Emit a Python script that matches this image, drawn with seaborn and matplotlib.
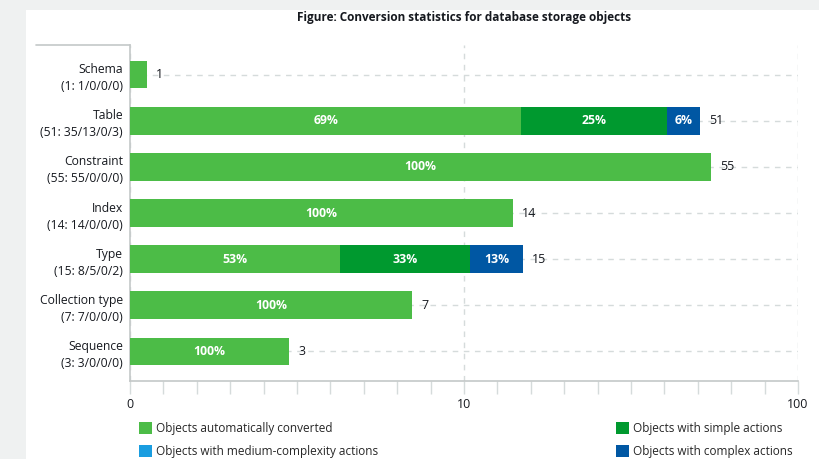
import numpy as np
import pandas as pd
import matplotlib
matplotlib.use("Agg")
import matplotlib.pyplot as plt
import seaborn as sns
from matplotlib.patches import Patch, Rectangle
from matplotlib.lines import Line2D
from matplotlib.ticker import FixedLocator, NullFormatter

# data
categories = ["Schema", "Table", "Constraint", "Index", "Type", "Collection type", "Sequence"]
totals = [1, 51, 55, 14, 15, 7, 3]
auto_conv = [1, 35, 55, 14, 8, 7, 3]
simple_act = [0, 13, 0, 0, 5, 0, 0]
medium_act = [0, 0, 0, 0, 0, 0, 0]
complex_act = [0, 3, 0, 0, 2, 0, 0]

series_names = ["Objects automatically converted", "Objects with simple actions",
                "Objects with medium-complexity actions", "Objects with complex actions"]
colors = ["#4cbc47", "#00992f", "#1a9de0", "#0057a3"]

sns.set_style("white")
plt.rcParams["font.family"] = ["Open Sans", "DejaVu Sans"]

fig = plt.figure(figsize=(8.2, 4.59), dpi=100, facecolor="#eff1f1")
fig.patches.append(Rectangle((26 / 820, 0), 1, 1 - 10 / 459, transform=fig.transFigure,
                             facecolor="white", edgecolor="none", zorder=-10))
ax = fig.add_axes([130 / 820, 1 - 381 / 459, 668 / 820, 336 / 459])
ax.set_facecolor("white")
ax.set_xscale("log")

counts = np.array([auto_conv, simple_act, medium_act, complex_act], dtype=float)
tot = np.array(totals, dtype=float)
# bar length is log10(total); segments split it proportionally
bar_len = np.maximum(np.log10(tot), 0.05)  # min visible width for single objects
frac = counts / tot
cum = np.cumsum(frac, axis=0)

labels = [f"{c}\n({t}: {a}/{s}/{m}/{x})" for c, t, a, s, m, x in
          zip(categories, totals, auto_conv, simple_act, medium_act, complex_act)]

# draw from the outermost layer inwards
for k in range(3, -1, -1):
    ends = 10 ** (cum[k] * bar_len)
    df = pd.DataFrame({"label": labels, "end": ends})
    sns.barplot(data=df, x="end", y="label", orient="h", color=colors[k],
                saturation=1, width=0.59, ax=ax, zorder=3, linewidth=0)

# percentage labels inside segments
for i in range(len(categories)):
    start = 0.0
    for k in range(4):
        if counts[k, i] > 0:
            mid = 10 ** ((start + cum[k, i]) / 2 * bar_len[i])
            if totals[i] > 2:
                ax.text(mid, i, f"{round(frac[k, i] * 100)}%", color="white",
                        ha="center", va="center", fontsize=8.8, fontweight="bold", zorder=5)
        start = cum[k, i]
    ax.annotate(str(totals[i]), (10 ** bar_len[i], i), xytext=(9, 0),
                textcoords="offset pixels", ha="left", va="center",
                fontsize=9, color="#16191f", zorder=5)

ax.set_xlim(1, 100)
ax.set_ylim(6.65, -0.65)
ax.set_xlabel("")
ax.set_ylabel("")

ax.xaxis.set_major_locator(FixedLocator([1, 10, 100]))
ax.set_xticklabels(["0", "10", "100"])
minors = [10 ** (k / 10) for k in range(1, 20) if k != 10]
ax.xaxis.set_minor_locator(FixedLocator(minors))
ax.xaxis.set_minor_formatter(NullFormatter())
ax.tick_params(axis="x", which="both", bottom=True, direction="out", length=9, width=1,
               color="#d5dbdb", labelsize=9, labelcolor="#16191f", pad=3)
ax.tick_params(axis="y", left=False, length=0, labelsize=8.7, labelcolor="#16191f", pad=5)
for t in ax.get_yticklabels():
    t.set_horizontalalignment("right")
    t.set_multialignment("right")
    t.set_linespacing(1.4)

ax.grid(axis="x", which="major", color="#d5dbdb", linestyle=(0, (4, 4)), linewidth=1)
ax.grid(axis="y", color="#d5dbdb", linestyle=(0, (4, 4)), linewidth=1)
ax.set_axisbelow(True)

for s in ["top", "right"]:
    ax.spines[s].set_visible(False)
for s in ["left", "bottom"]:
    ax.spines[s].set_color("#c4c8c8")
    ax.spines[s].set_linewidth(1.2)

fig.lines.append(Line2D([36 / 820, 130 / 820], [1 - 45 / 459, 1 - 45 / 459],
                        transform=fig.transFigure, color="#c4c8c8", linewidth=1.2))

fig.text(464 / 820, 1 - 17 / 459, "Figure: Conversion statistics for database storage objects",
         ha="center", va="center", fontsize=8.5, fontweight="bold", color="#16191f")

h = [Patch(facecolor=c, edgecolor="none") for c in colors]
leg_kw = dict(frameon=False, fontsize=8.5, handlelength=1.1, handleheight=1.1,
              handletextpad=0.3, labelspacing=0.85, borderpad=0, borderaxespad=0)
l1 = fig.legend([h[0], h[2]], [series_names[0], series_names[2]], loc="upper left",
                bbox_to_anchor=(139 / 820, 1 - 422 / 459), **leg_kw)
l2 = fig.legend([h[1], h[3]], [series_names[1], series_names[3]], loc="upper left",
                bbox_to_anchor=(616 / 820, 1 - 422 / 459), **leg_kw)

fig.savefig("out.png", dpi=100, facecolor=fig.get_facecolor())
